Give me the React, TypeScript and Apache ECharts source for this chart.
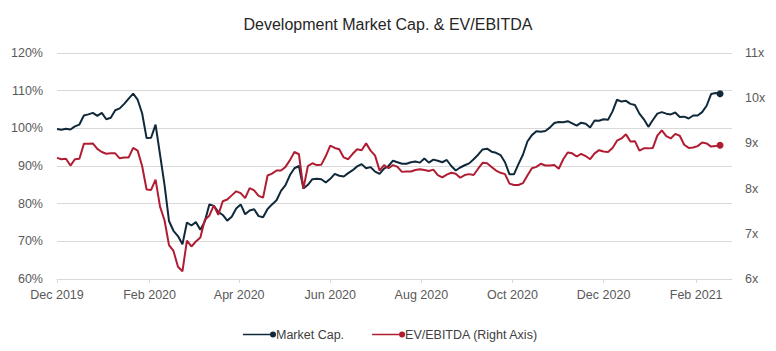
import React, { useEffect, useRef } from 'react';
import * as echarts from 'echarts';

const TITLE = 'Development Market Cap. & EV/EBITDA';
const SERIES_NAMES = ['Market Cap.', 'EV/EBITDA (Right Axis)'];
const COLORS = ['#10293a', '#b01d33'];

// sampling grid of the series: every 3 calendar days from 1 Dec 2019 (x = days since that date)
const START_DATE = [2019, 11, 1];
const STEP_DAYS = 3;
const AXIS_MAX_DATE = [2021, 1, 25];
const TICK_MONTHS: [number, number][] = [
  [2019, 11], [2020, 1], [2020, 3], [2020, 5], [2020, 7], [2020, 9], [2020, 11], [2021, 1],
];
const MONTH_NAMES = ['Jan', 'Feb', 'Mar', 'Apr', 'May', 'Jun', 'Jul', 'Aug', 'Sep', 'Oct', 'Nov', 'Dec'];

const LEFT_AXIS = { min: 60, max: 120, interval: 10, suffix: '%' };
const RIGHT_AXIS = { min: 6, max: 11, interval: 1, suffix: 'x' };

// Market Cap. (% , left axis)
const MARKET_CAP = [
  99.8, 99.6, 99.9, 99.7, 100.5, 101.0, 103.4, 103.7, 104.1, 103.3,
  104.1, 102.4, 102.8, 104.8, 105.3, 106.5, 107.9, 109.2, 107.6, 104.0,
  97.4, 97.5, 101.0, 93.0, 85.0, 75.4, 72.8, 71.4, 69.2, 75.0,
  74.2, 75.1, 73.1, 75.3, 79.8, 79.4, 77.8, 77.0, 75.5, 76.5,
  78.7, 79.8, 77.2, 78.2, 78.5, 76.7, 76.4, 78.6, 79.8, 80.9,
  83.4, 84.9, 87.6, 89.4, 90.0, 84.0, 85.0, 86.5, 86.6, 86.5,
  85.6, 86.6, 87.9, 87.4, 87.2, 88.1, 88.9, 89.9, 90.5, 89.4,
  89.7, 88.5, 87.9, 89.3, 90.0, 91.4, 91.0, 90.6, 90.6, 91.0,
  91.2, 90.9, 92.0, 90.9, 91.7, 91.4, 91.0, 91.6, 90.0, 88.8,
  89.6, 90.2, 90.7, 91.8, 93.0, 94.4, 94.6, 93.8, 93.5, 92.9,
  91.0, 87.8, 87.8, 90.5, 93.0, 96.5, 98.2, 99.2, 99.1, 99.3,
  100.2, 101.4, 101.7, 101.6, 101.9, 101.3, 100.7, 101.5, 101.2, 100.2,
  102.1, 102.0, 102.4, 102.3, 104.5, 107.6, 107.1, 107.3, 106.5, 106.2,
  103.9, 102.4, 100.4, 102.2, 103.9, 104.3, 103.9, 103.7, 104.2, 103.0,
  103.1, 102.6, 103.4, 103.4, 104.3, 106.0, 109.1, 109.4, 109.2,
];

// EV/EBITDA (x, right axis)
const EV_EBITDA = [
  8.68, 8.65, 8.66, 8.51, 8.65, 8.66, 8.99, 8.99, 9.00, 8.88,
  8.81, 8.77, 8.78, 8.78, 8.67, 8.69, 8.69, 8.90, 8.84, 8.50,
  7.98, 7.97, 8.20, 7.60, 7.30, 6.75, 6.62, 6.27, 6.17, 6.85,
  6.72, 6.83, 6.92, 7.31, 7.40, 7.63, 7.42, 7.72, 7.76, 7.85,
  7.94, 7.90, 7.79, 8.01, 7.96, 7.84, 7.80, 8.29, 8.33, 8.40,
  8.40, 8.48, 8.63, 8.81, 8.76, 8.00, 8.50, 8.56, 8.52, 8.53,
  8.72, 8.95, 8.90, 8.87, 8.69, 8.65, 8.77, 8.87, 8.85, 9.00,
  8.84, 8.73, 8.40, 8.52, 8.45, 8.52, 8.48, 8.37, 8.38, 8.38,
  8.41, 8.43, 8.41, 8.39, 8.42, 8.30, 8.25, 8.31, 8.35, 8.33,
  8.24, 8.30, 8.32, 8.30, 8.44, 8.57, 8.56, 8.48, 8.40, 8.35,
  8.32, 8.11, 8.08, 8.08, 8.12, 8.29, 8.45, 8.48, 8.55, 8.51,
  8.51, 8.52, 8.44, 8.65, 8.80, 8.78, 8.71, 8.77, 8.72, 8.65,
  8.78, 8.85, 8.82, 8.81, 8.90, 9.06, 9.11, 9.20, 9.04, 9.05,
  8.84, 8.89, 8.89, 8.90, 9.17, 9.29, 9.16, 9.11, 9.21, 9.17,
  8.97, 8.90, 8.91, 8.94, 9.02, 9.00, 8.93, 8.94, 8.96,
];

const FONT = "'Liberation Sans', Arial, sans-serif";
const LEGEND_ICON =
  'path://M0,3.2H29V4.8H0Z M27,4A3,3 0 1 1 33,4A3,3 0 1 1 27,4Z';
const DAY_MS = 86400000;

function startTime(): number {
  return new Date(START_DATE[0], START_DATE[1], START_DATE[2]).getTime();
}

function dayOffset(y: number, m: number, d: number): number {
  return Math.round((new Date(y, m, d).getTime() - startTime()) / DAY_MS);
}

function buildData(values: number[]) {
  return values.map((v, i) => {
    const item: any = { value: [i * STEP_DAYS, v] };
    if (i === values.length - 1) {
      item.symbol = 'circle';
      item.symbolSize = 7;
    }
    return item;
  });
}

export default function App() {
  const ref = useRef<HTMLDivElement>(null);

  useEffect(() => {
    document.body.style.margin = '0';
    if (!ref.current) return;
    const chart = echarts.init(ref.current, undefined, { renderer: 'svg' });
    const tickValues = TICK_MONTHS.map(([y, m]) => dayOffset(y, m, 1));
    const axisMax = dayOffset(AXIS_MAX_DATE[0], AXIS_MAX_DATE[1], AXIS_MAX_DATE[2]);
    const labelColor = '#595959';
    const gridColor = '#d9d9d9';

    chart.setOption({
      animation: false,
      backgroundColor: '#ffffff',
      title: {
        text: TITLE,
        left: 'center',
        top: 16,
        padding: 0,
        textStyle: { fontSize: 16, fontWeight: 'normal', color: '#262626', fontFamily: FONT },
      },
      legend: {
        top: 323,
        left: 238,
        itemGap: 28,
        itemWidth: 33,
        itemHeight: 7,
        textStyle: { fontSize: 12.5, color: '#404040', fontFamily: FONT, padding: [0, 0, 0, -5] },
        data: SERIES_NAMES.map((n) => ({ name: n, icon: LEGEND_ICON })),
      },
      grid: { left: 57, right: 44, top: 53, bottom: 72, containLabel: false },
      xAxis: {
        type: 'value',
        min: 0,
        max: axisMax,
        axisLine: { lineStyle: { color: gridColor, width: 1 } },
        axisTick: { show: true, length: 4, lineStyle: { color: gridColor }, customValues: tickValues },
        splitLine: { show: false },
        axisLabel: {
          customValues: tickValues,
          color: labelColor,
          fontSize: 12.5,
          fontFamily: FONT,
          margin: 9,
          formatter: (v: number) => {
            const d = new Date(startTime() + v * DAY_MS + DAY_MS / 2);
            return MONTH_NAMES[d.getMonth()] + ' ' + d.getFullYear();
          },
        },
      },
      yAxis: [
        {
          type: 'value',
          min: LEFT_AXIS.min,
          max: LEFT_AXIS.max,
          interval: LEFT_AXIS.interval,
          axisLine: { show: false },
          axisTick: { show: false },
          splitLine: { lineStyle: { color: gridColor, width: 1 } },
          axisLabel: {
            color: labelColor,
            fontSize: 12.5,
            fontFamily: FONT,
            margin: 14,
            formatter: (v: number) => v + LEFT_AXIS.suffix,
          },
        },
        {
          type: 'value',
          position: 'right',
          min: RIGHT_AXIS.min,
          max: RIGHT_AXIS.max,
          interval: RIGHT_AXIS.interval,
          axisLine: { show: false },
          axisTick: { show: false },
          splitLine: { show: false },
          axisLabel: {
            color: labelColor,
            fontSize: 12.5,
            fontFamily: FONT,
            margin: 13,
            formatter: (v: number) => v + RIGHT_AXIS.suffix,
          },
        },
      ],
      series: [
        {
          name: SERIES_NAMES[0],
          type: 'line',
          yAxisIndex: 0,
          data: buildData(MARKET_CAP),
          symbol: 'none',
          showSymbol: true,
          color: COLORS[0],
          lineStyle: { color: COLORS[0], width: 2 },
          itemStyle: { color: COLORS[0] },
          z: 2,
        },
        {
          name: SERIES_NAMES[1],
          type: 'line',
          yAxisIndex: 1,
          data: buildData(EV_EBITDA),
          symbol: 'none',
          showSymbol: true,
          color: COLORS[1],
          lineStyle: { color: COLORS[1], width: 2 },
          itemStyle: { color: COLORS[1] },
          z: 3,
        },
      ],
    });

    return () => chart.dispose();
  }, []);

  return <div ref={ref} style={{ width: 776, height: 351 }} />;
}
